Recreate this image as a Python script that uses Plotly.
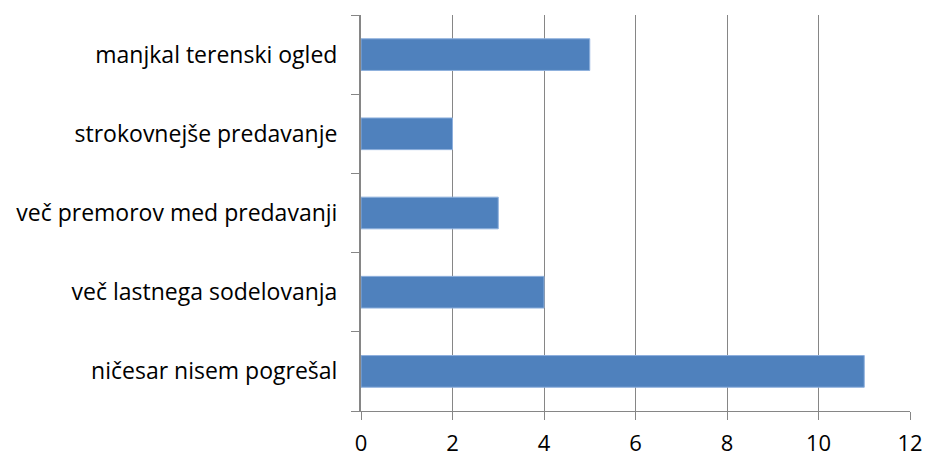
import plotly.graph_objects as go

categories = ["ničesar nisem pogrešal", "več lastnega sodelovanja", "več premorov med predavanji",
              "strokovnejše predavanje", "manjkal terenski ogled"]
values = [11, 4, 3, 2, 5]
x_ticks = [0, 2, 4, 6, 8, 10, 12]

fig = go.Figure(go.Bar(
    y=categories, x=values, orientation="h",
    marker=dict(color="#4F81BD", line=dict(color="#8EB0DD", width=1)),
    width=0.4,
))
font = "Open Sans, Liberation Sans, sans-serif"
fig.update_layout(
    width=928, height=457,
    margin=dict(l=361, r=18, t=15, b=46),
    plot_bgcolor="white", paper_bgcolor="white",
    showlegend=False,
    bargap=0.6,
    xaxis=dict(range=[0, 12], tickvals=x_ticks, showgrid=True, gridcolor="#868686", gridwidth=1,
               showline=True, linecolor="#868686", linewidth=1,
               ticks="outside", ticklen=8, tickcolor="#868686", automargin=False,
               tickfont=dict(family=font, size=22, color="black"), ticklabelstandoff=5,
               zeroline=False),
    yaxis=dict(type="category", categoryorder="array", categoryarray=categories,
               showline=True, linecolor="#868686", linewidth=2,
               ticks="outside", ticklen=8, tickcolor="#868686", tickson="boundaries",
               tickfont=dict(family=font, size=23, color="black"), ticklabelstandoff=17,
               automargin=False, showgrid=False),
)
fig.write_html("out.html", config={"displayModeBar": False},
               post_script="document.body.style.margin='0';document.body.style.overflow='hidden';")
